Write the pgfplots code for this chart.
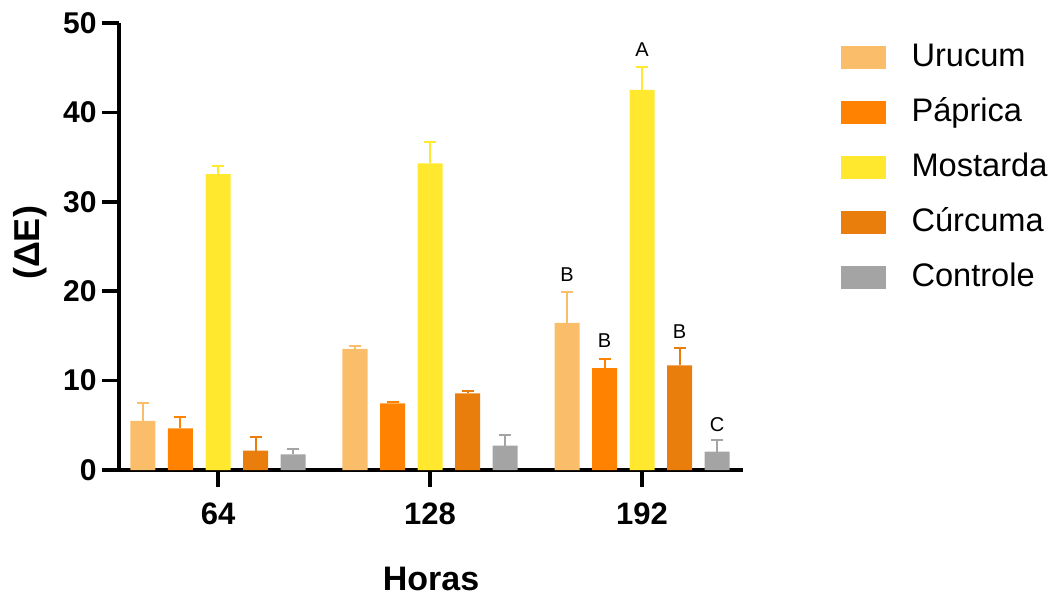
\documentclass[border=0pt]{standalone}
\usepackage{fontspec}
\setmainfont{Liberation Sans}
\usepackage{pgfplots}
\usepackage{pgfplotstable}
\pgfplotsset{compat=1.18}
\definecolor{uru}{RGB}{250,189,106}
\definecolor{pap}{RGB}{255,130,0}
\definecolor{mos}{RGB}{255,232,46}
\definecolor{cur}{RGB}{233,126,12}
\definecolor{ctl}{RGB}{164,164,164}
\pgfplotstableread{
x u ue p pe m me c ce k ke
1 5.5 1.95 4.66 1.3 33.1 0.95 2.16 1.5 1.75 0.55
2 13.55 0.35 7.45 0.15 34.3 2.35 8.57 0.22 2.72 1.16
3 16.46 3.46 11.4 1.04 42.53 2.53 11.7 1.93 2.05 1.34
}\data
\pgfplotstableread{
x y l
2.646 21.9 B
2.823 14.44 B
3 47.0 A
3.177 15.5 B
3.354 5.03 C
}\letters
\pgfplotsset{mybar/.style={ybar, bar width=0.118, bar shift=0pt, draw=none, fill=#1,
  error bars/.cd, y dir=plus, y explicit,
  error bar style={color=#1, line width=1pt},
  error mark options={color=#1, line width=1pt, mark size=3pt, rotate=90}}}
\begin{document}
\begin{tikzpicture}
\begin{axis}[
  scale only axis, width=312pt, height=223.5pt,
  xmin=0.533, xmax=3.476, ymin=0, ymax=50,
  axis lines=left, axis line style={-, line width=2pt},
  xtick={1,2,3}, xticklabels={64,128,192},
  ytick={0,10,20,30,40,50},
  tick align=outside, major tick length=8.5pt,
  major tick style={line width=1.8pt, black},
  /pgf/number format/assume math mode=true,
  yticklabel style={inner sep=0pt, xshift=-2.5pt, font=\bfseries\fontsize{15}{18}\selectfont},
  xticklabel style={inner sep=0pt, yshift=-7.5pt, font=\bfseries\fontsize{15.5}{18}\selectfont},
  xlabel={Horas}, ylabel={(ΔE)},
  every axis x label/.style={at={(axis description cs:0.5,-0.244)}, anchor=center, font=\bfseries\fontsize{17}{20}\selectfont},
  every axis y label/.style={at={(axis description cs:-0.142,0.508)}, rotate=90, anchor=center, font=\bfseries\fontsize{18}{21}\selectfont},
  legend style={draw=none, fill=none, at={(1.146,0.967)}, anchor=north west,
    font=\fontsize{16.3}{19}\selectfont, row sep=12pt,
    nodes={inner sep=0pt, text height=12pt, text depth=3.5pt},
    /tikz/every odd column/.style={column sep=13pt}},
  legend cell align=left,
  legend image code/.code={\fill[#1, draw=none] (0pt,-5.75pt) rectangle (22.5pt,5.75pt);},
  clip=false,
]
\addplot[mybar=uru] table[x expr=\thisrow{x}-0.354, y=u, y error=ue]{\data};
\addlegendentry{Urucum}
\addplot[mybar=pap] table[x expr=\thisrow{x}-0.177, y=p, y error=pe]{\data};
\addlegendentry{Páprica}
\addplot[mybar=mos] table[x expr=\thisrow{x}, y=m, y error=me]{\data};
\addlegendentry{Mostarda}
\addplot[mybar=cur] table[x expr=\thisrow{x}+0.177, y=c, y error=ce]{\data};
\addlegendentry{Cúrcuma}
\addplot[mybar=ctl] table[x expr=\thisrow{x}+0.354, y=k, y error=ke]{\data};
\addlegendentry{Controle}
\addplot[draw=none, mark=none, forget plot, nodes near coords, point meta=explicit symbolic,
  nodes near coords style={anchor=center, font=\fontsize{10}{12}\selectfont}]
  table[x=x, y=y, meta=l]{\letters};
\coordinate (bl) at (rel axis cs:-0.1907,-0.2819);
\coordinate (tr) at (rel axis cs:1.4984,1.0515);
\end{axis}
\pgfresetboundingbox
\path[use as bounding box] (bl) rectangle (tr);
\end{tikzpicture}
\end{document}
